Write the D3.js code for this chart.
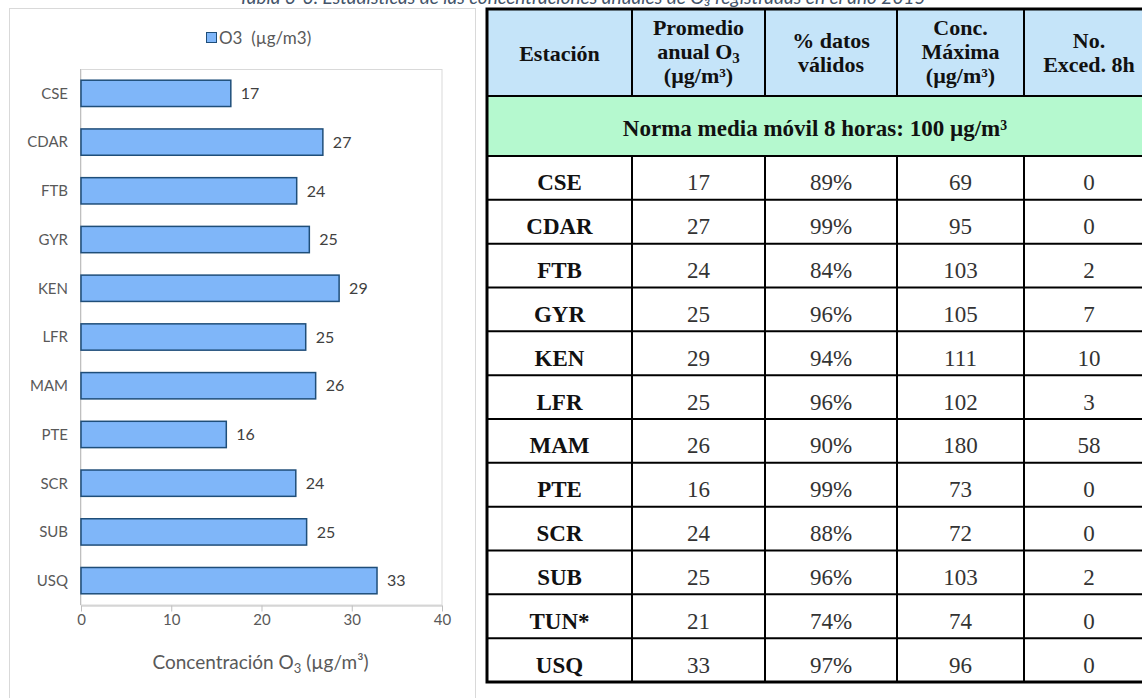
<!DOCTYPE html>
<html><head><meta charset="utf-8">
<script src="https://cdn.jsdelivr.net/npm/d3@7"></script>
<style>body{margin:0;background:#fff;} svg{display:block;}</style>
</head><body>
<svg id="c" width="1142" height="698"></svg>
<script>
// ---- chart data ----
const chartStations = ["CSE","CDAR","FTB","GYR","KEN","LFR","MAM","PTE","SCR","SUB","USQ"];
const chartValues = [16.6,26.8,23.9,25.3,28.6,24.9,26.0,16.1,23.8,25.0,32.8];
const xTicks = [0,10,20,30,40];
const legendLabel = "O3  (µg/m3)";

// ---- table data ----
const tableStations = ["CSE","CDAR","FTB","GYR","KEN","LFR","MAM","PTE","SCR","SUB","TUN*","USQ"];
const annualMean = [17,27,24,25,29,25,26,16,24,25,21,33];
const validPct = [89,99,84,96,94,96,90,99,88,96,74,97];
const maxConc = [69,95,103,105,111,102,180,73,72,103,74,96];
const exceed8h = [0,0,2,7,10,3,58,0,0,2,0,0];
const normText = "Norma media móvil 8 horas: 100 µg/m³";
const titleText = "Tabla 3-3. Estadísticas de las concentraciones anuales de O₃ registradas en el año 2015";

const svg = d3.select("#c");
const sans = "Lato, 'Open Sans', sans-serif";
const serif = "'Liberation Serif', 'Times New Roman', serif";

// title (cut off at top)
svg.append("text").attr("x", 582).attr("y", 4).attr("text-anchor","middle")
  .attr("font-family", sans).attr("font-style","italic").attr("font-size", 19)
  .attr("fill", "#44546a").text(titleText);

// ---------- CHART ----------
svg.append("rect").attr("x",9.5).attr("y",8.5).attr("width",466).attr("height",720)
  .attr("fill","#fff").attr("stroke","#d9d9d9").attr("stroke-width",1);

const x = d3.scaleLinear().domain([0,40]).range([81,442]);
const y = d3.scaleBand().domain(chartStations).range([69,605]).paddingInner(0.46).paddingOuter(0.23);

// plot area border
svg.append("rect").attr("x",x(0)).attr("y",69.5).attr("width",x(40)-x(0)).attr("height",605-69.5)
  .attr("fill","none").attr("stroke","#d9d9d9");
svg.append("line").attr("x1",x(0)-0.5).attr("x2",x(0)-0.5).attr("y1",69).attr("y2",605)
  .attr("stroke","#bfbfbf");

// bars
svg.append("g").selectAll("rect").data(chartStations).join("rect")
  .attr("x", x(0)).attr("y", d=>y(d))
  .attr("width", (d,i)=>x(chartValues[i])-x(0)).attr("height", y.bandwidth())
  .attr("fill","#7fb6f9").attr("stroke","#1f4e79").attr("stroke-width",1.5);

// value labels
const fmt = d3.format(".0f");
svg.append("g").selectAll("text").data(chartStations).join("text")
  .attr("x",(d,i)=>x(chartValues[i])+10).attr("y", d=>y(d)+y.bandwidth()/2).attr("dy","0.36em")
  .attr("font-family",sans).attr("font-size",16).attr("fill","#404040")
  .text((d,i)=>fmt(chartValues[i]));

// category labels
svg.append("g").selectAll("text").data(chartStations).join("text")
  .attr("x",68).attr("y", d=>y(d)+y.bandwidth()/2).attr("dy","0.36em").attr("text-anchor","end")
  .attr("font-family",sans).attr("font-size",15).attr("fill","#595959").text(d=>d);

// x axis
const xa = svg.append("g").attr("transform","translate(0,605.5)")
  .call(d3.axisBottom(x).tickValues(xTicks).tickSize(6).tickSizeOuter(0).tickPadding(3));
xa.select(".domain").attr("stroke","#bfbfbf");
xa.selectAll(".tick line").attr("stroke","#bfbfbf");
xa.selectAll(".tick text").attr("font-family",sans).attr("font-size",15).attr("fill","#595959");

// axis title
const at = svg.append("text").attr("x",260.5).attr("y",669).attr("text-anchor","middle")
  .attr("font-family",sans).attr("font-size",19).attr("fill","#595959");
at.append("tspan").text("Concentración O");
at.append("tspan").attr("font-size",13).attr("dy",4).text("3");
at.append("tspan").attr("dy",-4).text(" (µg/m³)");

// legend
svg.append("rect").attr("x",206.5).attr("y",32.5).attr("width",10).attr("height",10)
  .attr("fill","#7fb6f9").attr("stroke","#1f4e79");
svg.append("text").attr("x",219).attr("y",38).attr("dy","0.36em")
  .attr("font-family",sans).attr("font-size",17).attr("fill","#595959")
  .attr("xml:space","preserve").style("white-space","pre").text(legendLabel);

// ---------- TABLE ----------
const colEdges = [487,632,765,897,1024,1154];
const tTop = 9, hBot = 96, nBot = 156, tBot = 682;
const rowY = d3.scaleBand().domain(d3.range(tableStations.length)).range([nBot,tBot]);
const colMid = i => (colEdges[i]+colEdges[i+1])/2;
const tl = colEdges[0], tr = colEdges[colEdges.length-1];

const tg = svg.append("g");
tg.append("rect").attr("x",tl).attr("y",tTop).attr("width",tr-tl).attr("height",hBot-tTop).attr("fill","#c5e4f9");
tg.append("rect").attr("x",tl).attr("y",hBot).attr("width",tr-tl).attr("height",nBot-hBot).attr("fill","#b5f9cf");
tg.append("rect").attr("x",tl).attr("y",nBot).attr("width",tr-tl).attr("height",tBot-nBot).attr("fill","#fff");

// horizontal lines
const hLines = [hBot, nBot].concat(d3.range(1,tableStations.length).map(i=>rowY(i)));
tg.selectAll("line.h").data(hLines).join("line").attr("class","h")
  .attr("x1",tl).attr("x2",tr).attr("y1",d=>d).attr("y2",d=>d)
  .attr("stroke","#000").attr("stroke-width",2);
// vertical lines (header and data rows)
colEdges.slice(1,-1).forEach(cx=>{
  tg.append("line").attr("x1",cx).attr("x2",cx).attr("y1",tTop).attr("y2",hBot).attr("stroke","#000").attr("stroke-width",2);
  tg.append("line").attr("x1",cx).attr("x2",cx).attr("y1",nBot).attr("y2",tBot).attr("stroke","#000").attr("stroke-width",2);
});
// outer border
tg.append("rect").attr("x",tl).attr("y",tTop).attr("width",tr-tl).attr("height",tBot-tTop)
  .attr("fill","none").attr("stroke","#000").attr("stroke-width",3);

// header text
const headers = [
  [{t:"Estación", y:53}],
  [{t:"Promedio", y:27},{t:"anual O", sub:"3", y:51},{t:"(µg/m³)", y:75}],
  [{t:"% datos", y:40},{t:"válidos", y:64}],
  [{t:"Conc.", y:27},{t:"Máxima", y:51},{t:"(µg/m³)", y:75}],
  [{t:"No.", y:40},{t:"Exced. 8h", y:64}]
];
headers.forEach((lines,ci)=>{
  lines.forEach(L=>{
    const t = tg.append("text").attr("x",colMid(ci)).attr("y",L.y+7.5).attr("text-anchor","middle")
      .attr("font-family",serif).attr("font-weight","bold").attr("font-size",22).attr("fill","#111");
    t.append("tspan").text(L.t);
    if (L.sub) t.append("tspan").attr("font-size",15).attr("dy",4).text(L.sub);
  });
});

// norm row
tg.append("text").attr("x",815).attr("y",(hBot+nBot)/2+9.5).attr("text-anchor","middle")
  .attr("font-family",serif).attr("font-weight","bold").attr("font-size",23).attr("fill","#111").text(normText);

// data rows
const cols = [tableStations, annualMean, validPct.map(v=>v+"%"), maxConc, exceed8h];
tableStations.forEach((s,ri)=>{
  const yc = rowY(ri) + rowY.bandwidth()/2 + 12.5;
  cols.forEach((arr,ci)=>{
    tg.append("text").attr("x",colMid(ci)).attr("y",yc).attr("text-anchor","middle")
      .attr("font-family",serif).attr("font-size",23)
      .attr("font-weight", ci===0 ? "bold" : "normal")
      .attr("fill", ci===0 ? "#111" : "#333").text(arr[ri]);
  });
});
</script>
</body></html>
